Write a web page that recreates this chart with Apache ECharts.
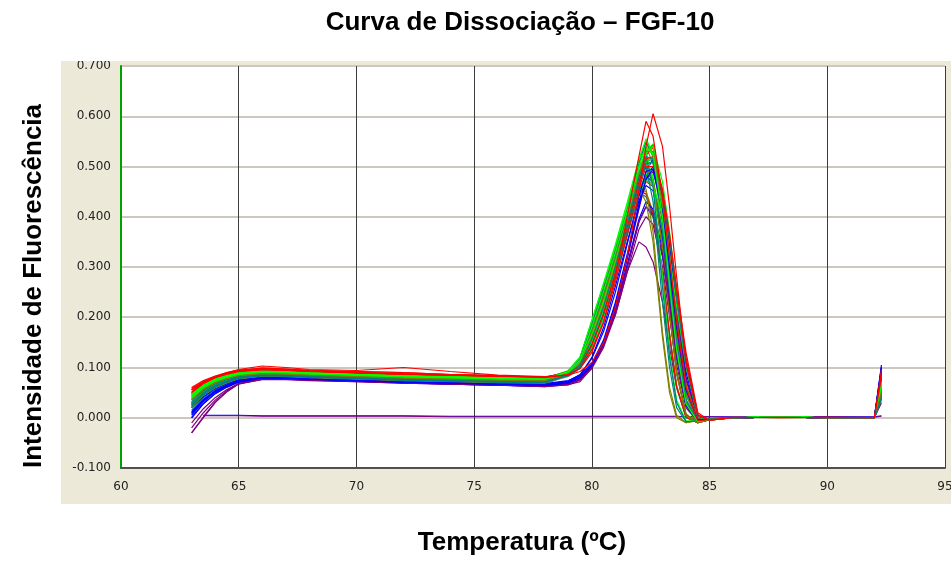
<!DOCTYPE html>
<html><head><meta charset="utf-8">
<script src="https://cdn.jsdelivr.net/npm/echarts@6/dist/echarts.min.js"></script>
<style>
html,body{margin:0;padding:0;background:#fff;}
#panel{position:absolute;left:61px;top:61px;width:890px;height:443px;background:#ECE9D8;}
#chart{position:absolute;left:0;top:0;width:951px;height:562px;}
</style></head>
<body><div id="panel"></div><div id="chart"></div>
<script>
// Temperatures (°C) at which each curve is sampled
const temps = [63.0,63.5,64.0,64.5,65.0,66.0,67.0,68.0,70.0,72.0,74.0,76.0,78.0,79.0,79.5,80.0,80.5,81.0,81.5,82.0,82.3,82.6,83.0,83.3,83.6,84.0,84.5,85.0,86.0,88.0,90.0,92.0,92.3];

const xTicks = [60,65,70,75,80,85,90,95];
const yTicks = [-0.1,0.0,0.1,0.2,0.3,0.4,0.5,0.6,0.7];

// Near-zero (no-template) wells
const flatBlue   = [null,0.005,0.005,0.005,0.005,0.004,0.004,0.004,0.004,0.004,0.003,0.003,0.003,0.003,0.003,0.003,0.003,0.003,0.003,0.003,0.003,0.003,0.003,0.003,0.003,0.002,0.002,0.002,0.002,0.002,0.002,0.002,0.004];
const flatPurple = [null,0.004,0.004,0.004,0.004,0.003,0.003,0.003,0.003,0.003,0.002,0.002,0.002,0.002,0.002,0.002,0.002,0.002,0.002,0.002,0.002,0.002,0.002,0.002,0.002,0.002,0.002,0.002,0.001,0.001,0.002,0.001,0.003];

// Melt-curve wells
const c01 = [0.030,0.052,0.066,0.075,0.082,0.086,0.085,0.083,0.080,0.077,0.075,0.073,0.072, 0.090,0.115,0.180,0.250,0.325,0.405,0.480,0.500,0.470,0.340,0.210,0.090,0.005,-0.010,-0.004, 0.001,0.000,0.000,0.000,0.050];
const c02 = [0.020,0.045,0.060,0.070,0.078,0.083,0.082,0.080,0.077,0.074,0.072,0.070,0.069, 0.084,0.101,0.150,0.215,0.295,0.380,0.470,0.510,0.515,0.420,0.300,0.170,0.050,-0.005,-0.004, 0.000,0.001,0.000,0.000,0.040];
const c03 = [0.045,0.062,0.074,0.082,0.088,0.092,0.090,0.088,0.085,0.082,0.080,0.078,0.077, 0.092,0.118,0.190,0.262,0.335,0.415,0.510,0.550,0.520,0.400,0.270,0.140,0.030,-0.008,-0.004, 0.000,0.002,0.000,0.000,0.070];
const c04 = [0.010,0.035,0.052,0.064,0.073,0.080,0.079,0.077,0.074,0.071,0.069,0.067,0.065, 0.072,0.082,0.105,0.150,0.225,0.320,0.420,0.480,0.500,0.430,0.330,0.210,0.080,0.000,-0.004, 0.000,0.001,0.000,0.000,0.090];
const c05 = [-0.030,0.000,0.030,0.052,0.068,0.078,0.078,0.076,0.073,0.070,0.068,0.066,0.063, 0.066,0.072,0.100,0.150,0.205,0.290,0.350,0.340,0.310,0.230,0.140,0.060,0.005,-0.006,-0.002, 0.000,0.001,0.000,0.000,0.030];
const c06 = [0.055,0.070,0.080,0.087,0.092,0.095,0.093,0.091,0.089,0.086,0.084,0.082,0.080, 0.088,0.104,0.142,0.202,0.282,0.368,0.452,0.482,0.470,0.372,0.252,0.132,0.032,-0.008,-0.004, 0.000,0.001,0.000,0.000,0.075];
const c07 = [0.025,0.048,0.063,0.073,0.080,0.085,0.084,0.082,0.079,0.076,0.074,0.072,0.071, 0.083,0.100,0.145,0.208,0.288,0.378,0.475,0.525,0.540,0.440,0.320,0.190,0.060,-0.004,-0.004, 0.000,0.001,0.000,0.000,0.055];
const c08 = [0.038,0.058,0.070,0.078,0.084,0.088,0.087,0.085,0.082,0.079,0.077,0.075,0.074, 0.093,0.120,0.192,0.265,0.338,0.418,0.505,0.540,0.505,0.385,0.255,0.125,0.020,-0.009,-0.004, 0.000,0.001,0.000,0.000,0.045];
const c09 = [0.000,0.028,0.048,0.061,0.071,0.079,0.078,0.076,0.073,0.070,0.067,0.065,0.063, 0.068,0.078,0.100,0.145,0.210,0.300,0.390,0.420,0.400,0.320,0.220,0.120,0.030,-0.006,-0.003, 0.000,0.001,0.000,0.000,0.100];
const c10 = [0.035,0.056,0.069,0.078,0.084,0.089,0.088,0.086,0.083,0.080,0.078,0.076,0.075, 0.085,0.103,0.150,0.212,0.292,0.382,0.478,0.530,0.545,0.450,0.330,0.200,0.065,-0.003,-0.004, 0.000,0.002,0.000,0.000,0.065];
const c11 = [0.048,0.065,0.077,0.085,0.090,0.094,0.092,0.090,0.088,0.085,0.083,0.081,0.079, 0.090,0.108,0.140,0.200,0.285,0.375,0.445,0.470,0.460,0.400,0.320,0.220,0.100,0.000,-0.005, 0.000,0.001,0.000,0.000,0.085];
const c12 = [0.015,0.040,0.056,0.067,0.075,0.081,0.080,0.078,0.075,0.072,0.070,0.068,0.067, 0.086,0.108,0.168,0.238,0.312,0.388,0.448,0.440,0.400,0.280,0.160,0.060,0.000,-0.010,-0.004, 0.000,0.001,0.000,0.000,0.035];
const c13 = [-0.010,0.018,0.040,0.056,0.068,0.076,0.076,0.074,0.072,0.069,0.067,0.065,0.062, 0.066,0.075,0.098,0.140,0.205,0.290,0.375,0.400,0.385,0.300,0.200,0.105,0.020,-0.006,-0.003, 0.000,0.001,0.000,0.000,0.045];
const c14 = [0.050,0.066,0.077,0.084,0.089,0.093,0.091,0.089,0.086,0.083,0.081,0.079,0.078, 0.093,0.117,0.182,0.252,0.328,0.408,0.485,0.510,0.480,0.350,0.220,0.095,0.008,-0.010,-0.004, 0.000,0.002,0.000,0.000,0.050];
const c15 = [0.028,0.050,0.064,0.073,0.080,0.085,0.084,0.082,0.079,0.076,0.074,0.072,0.071, 0.087,0.109,0.168,0.238,0.314,0.392,0.455,0.450,0.410,0.290,0.170,0.065,0.002,-0.010,-0.004, 0.000,0.001,0.000,0.000,0.055];
const c16 = [0.020,0.042,0.058,0.068,0.076,0.082,0.081,0.079,0.076,0.073,0.071,0.069,0.068, 0.074,0.085,0.108,0.155,0.230,0.325,0.425,0.490,0.515,0.445,0.345,0.225,0.090,0.002,-0.004, 0.000,0.001,0.000,0.000,0.080];
const c17 = [0.060,0.074,0.083,0.090,0.095,0.098,0.096,0.094,0.091,0.088,0.086,0.083,0.081, 0.090,0.112,0.172,0.242,0.318,0.394,0.452,0.445,0.405,0.285,0.165,0.062,0.001,-0.010,-0.004, 0.000,0.001,0.000,0.000,0.070];
const c18 = [0.030,0.052,0.066,0.075,0.082,0.087,0.086,0.084,0.081,0.078,0.076,0.074,0.073, 0.091,0.116,0.186,0.258,0.332,0.412,0.508,0.548,0.520,0.395,0.265,0.135,0.025,-0.008,-0.004, 0.000,0.001,0.000,0.000,0.060];
const c19 = [0.042,0.061,0.073,0.081,0.087,0.091,0.090,0.088,0.085,0.082,0.080,0.078,0.077, 0.086,0.102,0.142,0.202,0.282,0.366,0.452,0.485,0.475,0.375,0.255,0.135,0.032,-0.008,-0.004, 0.000,0.002,0.000,0.000,0.040];
const c20 = [0.020,0.045,0.060,0.070,0.078,0.083,0.082,0.080,0.077,0.074,0.072,0.070,0.069, 0.082,0.098,0.138,0.198,0.278,0.362,0.445,0.475,0.465,0.365,0.245,0.125,0.028,-0.008,-0.004, 0.000,0.001,0.000,0.000,0.050];
const c21 = [0.042,0.061,0.073,0.081,0.087,0.091,0.090,0.088,0.085,0.082,0.080,0.078,0.077, 0.087,0.104,0.152,0.217,0.297,0.382,0.472,0.512,0.518,0.425,0.305,0.175,0.052,-0.005,-0.004, 0.000,0.001,0.000,0.000,0.060];
const c22 = [0.050,0.068,0.080,0.088,0.094,0.099,0.097,0.094,0.092,0.090,0.086,0.084,0.080, 0.085,0.100,0.144,0.206,0.286,0.376,0.472,0.522,0.538,0.445,0.325,0.195,0.065,-0.004,-0.004, 0.000,0.001,0.000,0.000,0.090];
const c23 = [0.045,0.063,0.075,0.083,0.088,0.092,0.091,0.089,0.086,0.083,0.081,0.079,0.078, 0.086,0.102,0.148,0.210,0.290,0.380,0.478,0.528,0.542,0.442,0.322,0.192,0.062,-0.004,-0.004, 0.000,0.002,0.000,0.000,0.070];
const c24 = [0.005,0.032,0.051,0.063,0.072,0.079,0.078,0.076,0.073,0.070,0.068,0.066,0.064, 0.069,0.079,0.102,0.148,0.215,0.305,0.395,0.430,0.415,0.335,0.235,0.130,0.035,-0.006,-0.003, 0.000,0.001,0.000,0.000,0.105];
const c25 = [0.025,0.048,0.063,0.073,0.080,0.085,0.084,0.082,0.079,0.076,0.074,0.072,0.071, 0.089,0.113,0.178,0.248,0.322,0.402,0.478,0.498,0.468,0.338,0.208,0.088,0.004,-0.010,-0.004, 0.000,0.001,0.000,0.000,0.045];
const c26 = [-0.020,0.010,0.035,0.054,0.068,0.077,0.077,0.075,0.073,0.070,0.068,0.066,0.064, 0.070,0.080,0.103,0.148,0.222,0.316,0.415,0.475,0.490,0.420,0.320,0.200,0.075,0.000,-0.004, 0.000,0.001,0.000,0.000,0.060];
const c27 = [0.038,0.058,0.070,0.078,0.084,0.088,0.087,0.085,0.082,0.079,0.077,0.075,0.074, 0.085,0.101,0.141,0.201,0.281,0.366,0.450,0.480,0.470,0.370,0.250,0.130,0.030,-0.008,-0.004, 0.000,0.001,0.000,0.000,0.050];
const c28 = [0.038,0.058,0.070,0.078,0.084,0.088,0.087,0.085,0.082,0.079,0.077,0.075,0.074, 0.086,0.103,0.151,0.216,0.296,0.381,0.471,0.511,0.516,0.421,0.301,0.171,0.051,-0.005,-0.004, 0.000,0.002,0.000,0.000,0.075];
const c29 = [0.030,0.052,0.066,0.075,0.082,0.086,0.085,0.083,0.080,0.077,0.075,0.073,0.072, 0.085,0.102,0.149,0.213,0.293,0.379,0.468,0.505,0.508,0.412,0.292,0.162,0.046,-0.005,-0.004, 0.000,0.001,0.000,0.000,0.050];
const c30 = [0.042,0.061,0.073,0.081,0.087,0.091,0.090,0.088,0.085,0.082,0.080,0.078,0.077, 0.094,0.121,0.194,0.266,0.340,0.420,0.515,0.555,0.525,0.405,0.275,0.145,0.032,-0.008,-0.004, 0.000,0.002,0.000,0.000,0.065];
const c31 = [0.045,0.062,0.074,0.082,0.088,0.092,0.090,0.088,0.085,0.082,0.080,0.078,0.077, 0.084,0.100,0.146,0.209,0.289,0.379,0.476,0.526,0.543,0.443,0.323,0.193,0.063,-0.004,-0.004, 0.000,0.001,0.000,0.000,0.055];
const c32 = [0.055,0.070,0.080,0.087,0.092,0.095,0.093,0.091,0.089,0.086,0.084,0.082,0.080, 0.092,0.116,0.181,0.251,0.326,0.406,0.482,0.502,0.472,0.342,0.212,0.092,0.006,-0.010,-0.004, 0.000,0.001,0.000,0.000,0.080];
const c33 = [0.000,0.028,0.048,0.061,0.071,0.079,0.078,0.076,0.073,0.070,0.067,0.065,0.063, 0.070,0.084,0.120,0.180,0.262,0.350,0.432,0.462,0.452,0.362,0.242,0.122,0.025,-0.008,-0.004, 0.000,0.001,0.000,0.000,0.095];
const c34 = [0.025,0.048,0.063,0.073,0.080,0.085,0.084,0.082,0.079,0.076,0.074,0.072,0.071, 0.084,0.099,0.139,0.199,0.279,0.364,0.449,0.479,0.469,0.369,0.249,0.129,0.029,-0.008,-0.004, 0.000,0.001,0.000,0.000,0.045];
const c35 = [0.030,0.052,0.066,0.075,0.082,0.086,0.085,0.083,0.080,0.077,0.075,0.073,0.072, 0.088,0.106,0.139,0.199,0.284,0.374,0.446,0.472,0.462,0.402,0.322,0.222,0.102,0.001,-0.005, 0.000,0.002,0.000,0.000,0.060];
const c36 = [0.020,0.045,0.060,0.070,0.078,0.083,0.082,0.080,0.077,0.074,0.072,0.070,0.069, 0.089,0.114,0.179,0.249,0.324,0.404,0.479,0.499,0.469,0.339,0.209,0.089,0.004,-0.010,-0.004, 0.000,0.001,0.000,0.000,0.050];
const c37 = [-0.030,0.002,0.031,0.052,0.067,0.077,0.077,0.075,0.072,0.069,0.067,0.065,0.062, 0.066,0.076,0.100,0.145,0.210,0.300,0.390,0.420,0.405,0.325,0.225,0.125,0.032,-0.006,-0.003, 0.000,0.001,0.000,0.000,0.040];
const c38 = [0.028,0.050,0.064,0.073,0.080,0.085,0.084,0.082,0.079,0.076,0.074,0.072,0.071, 0.090,0.118,0.185,0.258,0.332,0.410,0.470,0.455,0.370,0.170,0.060,0.005,-0.010,-0.006,-0.003, 0.000,0.001,0.000,0.000,0.055];
const c39 = [0.022,0.046,0.061,0.071,0.079,0.084,0.083,0.081,0.078,0.075,0.073,0.071,0.070, 0.088,0.114,0.178,0.250,0.326,0.405,0.490,0.500,0.430,0.230,0.100,0.020,-0.008,-0.006,-0.003, 0.000,0.001,0.000,0.000,0.045];
const c40 = [0.048,0.065,0.076,0.083,0.089,0.093,0.092,0.090,0.087,0.084,0.082,0.080,0.078, 0.092,0.120,0.192,0.268,0.345,0.428,0.515,0.530,0.470,0.280,0.130,0.035,-0.006,-0.006,-0.003, 0.000,0.002,0.000,0.000,0.070];
const c41 = [0.035,0.056,0.069,0.077,0.083,0.087,0.086,0.084,0.081,0.078,0.076,0.074,0.073, 0.087,0.110,0.170,0.240,0.316,0.395,0.455,0.430,0.350,0.160,0.050,0.000,-0.010,-0.005,-0.003, 0.000,0.001,0.000,0.000,0.040];
const c42 = [0.032,0.054,0.067,0.076,0.082,0.087,0.086,0.084,0.081,0.078,0.076,0.074,0.073, 0.090,0.116,0.184,0.256,0.330,0.412,0.500,0.520,0.460,0.260,0.120,0.030,-0.008,-0.006,-0.003, 0.000,0.001,0.000,0.000,0.060];
const c43 = [0.052,0.069,0.080,0.088,0.093,0.097,0.095,0.093,0.090,0.087,0.085,0.083,0.081, 0.086,0.100,0.135,0.190,0.270,0.365,0.455,0.500,0.500,0.440,0.360,0.260,0.130,0.010,-0.005, 0.000,0.001,0.000,0.000,0.085];
const c44 = [0.008,0.034,0.052,0.064,0.073,0.080,0.079,0.077,0.074,0.071,0.069,0.067,0.065, 0.070,0.080,0.104,0.150,0.222,0.318,0.420,0.475,0.495,0.445,0.360,0.250,0.115,0.005,-0.004, 0.000,0.001,0.000,0.000,0.100];
const c45 = [0.040,0.060,0.072,0.080,0.086,0.090,0.089,0.087,0.084,0.081,0.079,0.077,0.076, 0.086,0.104,0.150,0.212,0.292,0.382,0.478,0.525,0.540,0.470,0.370,0.250,0.110,0.004,-0.004, 0.000,0.002,0.000,0.000,0.065];
const c46 = [0.028,0.050,0.064,0.073,0.080,0.085,0.084,0.082,0.079,0.076,0.074,0.072,0.071, 0.084,0.100,0.144,0.205,0.285,0.372,0.462,0.505,0.510,0.450,0.355,0.240,0.105,0.002,-0.004, 0.000,0.001,0.000,0.000,0.050];
const c47 = [0.056,0.071,0.081,0.088,0.093,0.096,0.094,0.092,0.089,0.087,0.085,0.083,0.081, 0.088,0.104,0.146,0.208,0.290,0.380,0.470,0.515,0.520,0.455,0.365,0.255,0.120,0.006,-0.005, 0.000,0.001,0.000,0.000,0.090];
const c48 = [0.044,0.062,0.074,0.082,0.088,0.092,0.091,0.089,0.086,0.083,0.081,0.079,0.078, 0.089,0.110,0.165,0.232,0.310,0.395,0.490,0.535,0.525,0.410,0.280,0.150,0.035,-0.008,-0.004, 0.000,0.002,0.000,0.000,0.060];
const c49 = [0.036,0.057,0.070,0.078,0.084,0.088,0.087,0.085,0.082,0.079,0.077,0.075,0.074, 0.088,0.108,0.160,0.226,0.304,0.390,0.485,0.530,0.530,0.425,0.300,0.165,0.045,-0.006,-0.004, 0.000,0.001,0.000,0.000,0.050];
const c50 = [0.024,0.047,0.062,0.072,0.079,0.084,0.083,0.081,0.078,0.075,0.073,0.071,0.070, 0.086,0.105,0.156,0.221,0.300,0.386,0.478,0.520,0.515,0.405,0.280,0.150,0.036,-0.008,-0.004, 0.000,0.001,0.000,0.000,0.040];
const c51 = [0.012,0.037,0.054,0.065,0.074,0.080,0.079,0.077,0.074,0.071,0.069,0.067,0.066, 0.073,0.086,0.118,0.172,0.250,0.345,0.440,0.490,0.495,0.410,0.300,0.180,0.055,-0.004,-0.004, 0.000,0.001,0.000,0.000,0.095];
const c52 = [0.046,0.064,0.075,0.083,0.088,0.092,0.091,0.089,0.086,0.083,0.081,0.079,0.078, 0.091,0.115,0.180,0.252,0.328,0.410,0.500,0.540,0.525,0.400,0.265,0.135,0.028,-0.008,-0.004, 0.000,0.002,0.000,0.000,0.070];
const r01 = [0.058,0.072,0.082,0.090,0.096,0.103,0.100,0.096,0.094,0.100,0.092,0.085,0.082, 0.085,0.092,0.110,0.150,0.220,0.320,0.450,0.540,0.605,0.540,0.420,0.280,0.110,0.005,-0.005, 0.000,0.001,0.000,0.000,0.080];
const r02 = [0.050,0.068,0.080,0.088,0.094,0.099,0.097,0.094,0.092,0.090,0.086,0.084,0.080, 0.086,0.098,0.130,0.190,0.280,0.400,0.520,0.590,0.560,0.440,0.320,0.190,0.060,-0.006,-0.004, 0.001,0.000,0.001,0.000,0.095];

const wells = [flatBlue,flatPurple,c01,c02,c03,c04,c05,c06,c07,c08,c09,c10,c11,c12,c13,c14,c15,c16,c17,c18,c19,c20,c21,c22,c23,c24,c25,c26,c27,c28,c29,c30,c31,c32,c33,c34,c35,c36,c37,c38,c39,c40,c41,c42,c43,c44,c45,c46,c47,c48,c49,c50,c51,c52,r01,r02];
const wellColors = ['#0000FF','#800080',
  '#808000','#008080','#00FF00','#0000FF','#800080','#FF0000','#008080','#808000','#0000FF','#00FF00',
  '#FF0000','#008080','#800080','#00FF00','#808000','#0000FF','#FF0000','#008080','#00FF00','#808080',
  '#808000','#FF0000','#00FF00','#0000FF','#008080','#800080','#808000','#00FF00','#008080','#00FF00',
  '#808000','#FF0000','#0000FF','#008080','#00FF00','#808000','#800080',
  '#808000','#008080','#00FF00','#808000','#008080','#FF0000','#0000FF','#00FF00','#008080','#FF0000',
  '#00FF00','#808000','#008080','#0000FF','#00FF00',
  '#FF0000','#FF0000'];

const chart = echarts.init(document.getElementById('chart'), null, {renderer:'canvas'});
const titleFont = 'bold 26px "Liberation Sans", Arial, sans-serif';
chart.setOption({
  backgroundColor: 'transparent',
  animation: false,
  grid: {left:121, right:6, top:66, bottom:94, show:true, backgroundColor:'#ffffff', borderWidth:0, containLabel:false, outerBoundsMode:'none'},
  xAxis: {
    type:'value', min:xTicks[0], max:xTicks[xTicks.length-1], interval:5,
    axisLine:{show:true, onZero:false, lineStyle:{color:'#505050', width:2}},
    axisTick:{show:false},
    axisLabel:{color:'#222', fontSize:12, fontFamily:'DejaVu Sans', margin:13, showMaxLabel:true, showMinLabel:true},
    splitLine:{show:true, lineStyle:{color:'#3C3C3C', width:1}}
  },
  yAxis: {
    type:'value', min:yTicks[0], max:yTicks[yTicks.length-1], interval:0.1,
    axisLine:{show:true, onZero:false, lineStyle:{color:'#00A000', width:2}},
    axisTick:{show:false},
    axisLabel:{color:'#222', fontSize:12, fontFamily:'DejaVu Sans', margin:10, formatter:v=>v.toFixed(3)},
    splitLine:{show:true, lineStyle:{color:'#CCC8C0', width:2}}
  },
  series: wells.map((w,k)=>({
    type:'line', showSymbol:false, smooth:false, silent:true,
    lineStyle:{width:1.2, color:wellColors[k]},
    data: temps.map((t,i)=>[t,w[i]]).filter(p=>p[1]!==null && p[1]!==undefined)
  })),
  graphic: [
    {type:'rect', z:100, shape:{x:61, y:48, width:70, height:13}, style:{fill:'#ffffff'}},
    {type:'text', z:100, x:520, y:23, style:{text:'Curva de Dissociação – FGF-10', font:titleFont, fill:'#000', textAlign:'center', textVerticalAlign:'middle'}},
    {type:'text', z:100, x:522, y:543, style:{text:'Temperatura (ºC)', font:titleFont, fill:'#000', textAlign:'center', textVerticalAlign:'middle'}},
    {type:'text', z:100, x:34, y:286, rotation:Math.PI/2, style:{text:'Intensidade de Fluorescência', font:titleFont, fill:'#000', textAlign:'center', textVerticalAlign:'middle'}}
  ]
});
</script></body></html>
